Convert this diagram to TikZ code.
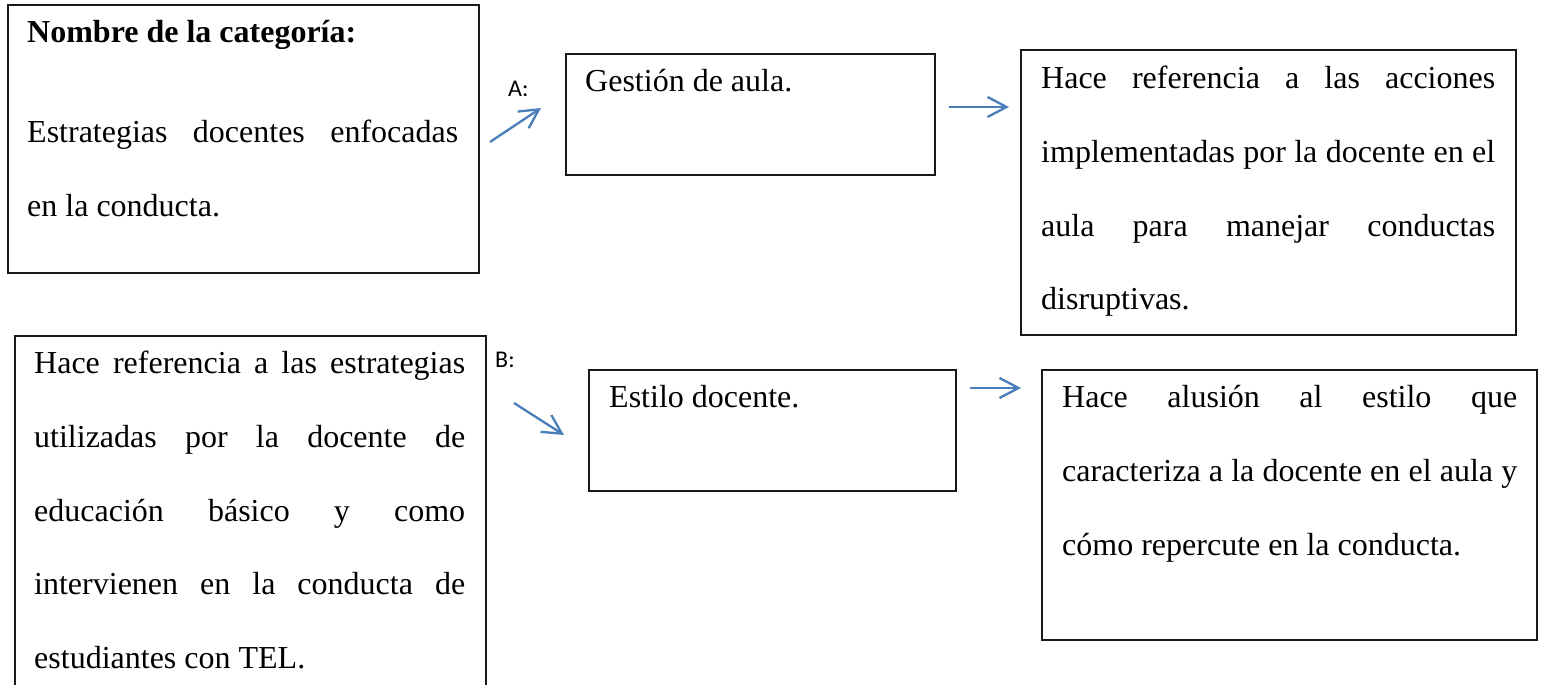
\documentclass[tikz,border=0pt]{standalone}
\usepackage{fontspec}
\setmainfont{Liberation Serif}
\newfontfamily\calfont{Carlito}
\usetikzlibrary{arrows.meta}
\definecolor{arrowblue}{HTML}{4A7EBB}
\hyphenpenalty=10000
\exhyphenpenalty=10000
\tolerance=10000
\begin{document}
\begin{tikzpicture}[x=1pt,y=1pt,
  box/.style={draw=black!90, line width=2pt, anchor=north west, inner sep=0pt},
  txt/.style={anchor=base west, inner sep=0pt, font=\fontsize{32}{73.6}\selectfont},
  boldtxt/.style={anchor=base west, inner sep=0pt, font=\fontsize{32}{73.6}\selectfont\bfseries},
  para/.style={txt, align=justify, text width=#1},
  lbl/.style={anchor=base west, inner sep=0pt, font=\calfont\fontsize{24}{28}\selectfont},
  conn/.style={draw=arrowblue, line width=2.3pt, -{Straight Barb[length=19pt,width=20pt]}}
]
\useasboundingbox (0,0) rectangle (1544,685);
\fill[white] (0,0) rectangle (1544,685);

% box 1
\node[box, minimum width=471pt, minimum height=268pt] (b1) at (7,681) {};
\node[boldtxt] (t1) at (27,642) {Nombre de la categoría:};
\node[para=431pt] (p1) at (27,542) {Estrategias docentes enfocadas\linebreak en la conducta.};

% box 2
\node[box, minimum width=369pt, minimum height=121pt] (b2) at (565,632) {};
\node[txt] (t2) at (585,593) {Gestión de aula.};

% box 3
\node[box, minimum width=495pt, minimum height=285pt] (b3) at (1020,636) {};
\node[para=454pt] (p3) at (1041,596) {Hace referencia a las acciones\linebreak implementadas por la docente en el\linebreak aula para manejar conductas\linebreak disruptivas.};

% box 4
\node[box, minimum width=471pt, minimum height=380pt] (b4) at (14,350) {};
\node[para=431pt] (p4) at (34,311) {Hace referencia a las estrategias\linebreak utilizadas por la docente de\linebreak educación básico y como\linebreak intervienen en la conducta de\linebreak estudiantes con TEL.};

% box 5
\node[box, minimum width=367pt, minimum height=121pt] (b5) at (588,316) {};
\node[txt] (t5) at (609,277) {Estilo docente.};

% box 6
\node[box, minimum width=495pt, minimum height=270pt] (b6) at (1041,316) {};
\node[para=455pt] (p6) at (1062,277) {Hace alusión al estilo que\linebreak caracteriza a la docente en el aula y\linebreak cómo repercute en la conducta.};

% labels
\node[lbl] (la) at (508,588) {A:};
\node[lbl] (lb) at (495,317) {B:};

% connectors
\coordinate (a1s) at (490,543);
\coordinate (a1e) at (541,577);
\coordinate (a2s) at (949,578);
\coordinate (a2e) at (1009,578);
\coordinate (b1s) at (514,282);
\coordinate (b1e) at (564,250);
\coordinate (b2s) at (970,297);
\coordinate (b2e) at (1021,297);
\draw[conn] (a1s) -- (a1e);
\draw[conn] (a2s) -- (a2e);
\draw[conn] (b1s) -- (b1e);
\draw[conn] (b2s) -- (b2e);
\end{tikzpicture}
\end{document}
